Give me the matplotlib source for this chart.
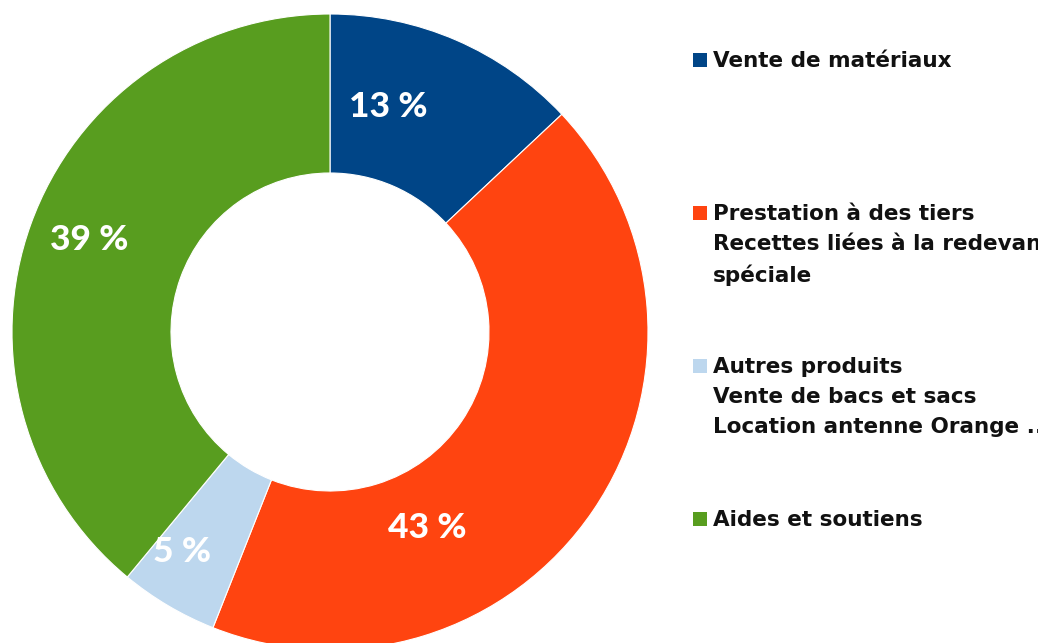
import matplotlib
matplotlib.use("Agg")
import matplotlib.pyplot as plt
from matplotlib.patches import Rectangle

categories = [
    "Vente de matériaux",
    "Prestation à des tiers\nRecettes liées à la redevance\nspéciale",
    "Autres produits\nVente de bacs et sacs\nLocation antenne Orange ...",
    "Aides et soutiens",
]
values = [13, 43, 5, 39]
pct_labels = ["13 %", "43 %", "5 %", "39 %"]
colors = ["#004587", "#FF4410", "#BDD7EE", "#589D1F"]

# label positions (pixel coordinates in the figure, origin top-left)
label_pos = [(388, 107), (427, 528), (182, 552), (89, 240)]
legend_y = [60, 213, 366, 519]

W, H = 1038, 643
fig = plt.figure(figsize=(W / 100, H / 100), dpi=100)
fig.patch.set_facecolor("white")

cx, cy, R = 330, 332, 318
ax = fig.add_axes([(cx - R) / W, (H - cy - R) / H, 2 * R / W, 2 * R / H])
ax.pie(values, colors=colors, startangle=90, counterclock=False,
       wedgeprops=dict(width=0.5, edgecolor="white", linewidth=0.8),
       radius=1.0)
ax.set_xlim(-1, 1)
ax.set_ylim(-1, 1)
ax.set_aspect("equal")
ax.axis("off")

for (px, py), t in zip(label_pos, pct_labels):
    fig.text(px / W, 1 - py / H, t, ha="center", va="center",
             color="white", fontsize=25.5, fontweight=900,
             family=["Lato", "DejaVu Sans"])

sq = 14
for y, c, lab in zip(legend_y, colors, categories):
    fig.patches.append(Rectangle(((700 - sq / 2) / W, 1 - (y + sq / 2) / H),
                                 sq / W, sq / H, transform=fig.transFigure,
                                 facecolor=c, edgecolor="none"))
    fig.text(713 / W, 1 - (y - 9) / H, lab, ha="left", va="top",
             fontsize=15.5, fontweight="bold", color="#111111",
             family="DejaVu Sans", linespacing=1.62)

fig.savefig("out.png", dpi=100)
